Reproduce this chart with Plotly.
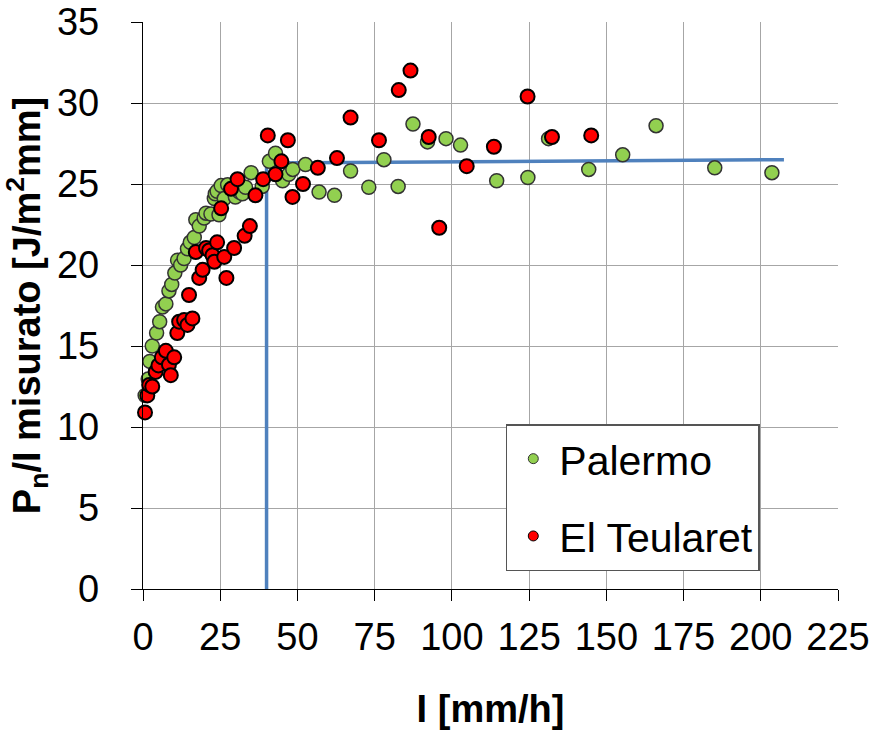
import plotly.graph_objects as go

# Palermo series
pal_x = [0.7, 1.7, 2.2, 3.0, 4.4, 5.4, 6.3, 7.4, 8.4, 9.3, 10.3, 11.2, 12.2, 13.3, 14.4,
         15.3, 16.6, 17.1, 18.2, 19.8, 20.4, 22.0, 24.6, 23.1, 23.4, 24.0, 25.3, 26.3,
         27.4, 29.5, 29.9, 31.2, 32.2, 33.2, 35.0, 38.6, 40.9, 42.9, 45.2, 47.2, 48.5,
         52.6, 57.0, 62.0, 67.2, 73.1, 78.0, 82.6, 87.4, 92.1, 98.1, 102.8, 114.5, 124.6,
         131.3, 144.3, 155.3, 166.1, 185.1, 203.6]
pal_y = [11.95, 12.96, 14.05, 15.0, 15.8, 16.5, 17.4, 17.6, 18.4, 18.8, 19.5, 20.3, 20.0,
         20.4, 21.0, 21.4, 21.7, 22.8, 22.4, 22.9, 23.2, 23.15, 23.1, 24.1, 24.4, 24.55,
         24.9, 24.1, 24.95, 24.5, 24.2, 24.5, 24.4, 24.8, 25.7, 24.85, 26.4, 26.9, 25.2,
         25.6, 25.9, 26.2, 24.5, 24.3, 25.8, 24.8, 26.5, 24.85, 28.7, 27.6, 27.8, 27.4,
         25.2, 25.4, 27.8, 25.9, 26.8, 28.6, 26.0, 25.7]

# El Teularet series
teu_x = [0.65, 1.4, 2.0, 3.0, 4.1, 5.0, 6.1, 7.4, 8.4, 9.0, 10.1, 11.1, 11.7, 13.3, 14.4,
         16.0, 14.9, 18.2, 19.3, 17.1, 20.4, 21.4, 22.5, 23.1, 24.0, 26.3, 27.0, 29.5,
         32.9, 34.6, 25.3, 28.5, 30.6, 36.4, 38.9, 40.4, 42.9, 44.8, 46.9, 48.4, 51.8,
         56.6, 62.8, 67.2, 76.4, 82.8, 86.6, 92.5, 95.9, 104.8, 113.6, 124.5, 132.4, 145.1]
teu_y = [10.9, 11.95, 12.6, 12.5, 13.4, 13.8, 14.3, 14.7, 13.85, 13.2, 14.3, 15.8, 16.5,
         16.6, 16.3, 16.7, 18.15, 19.2, 19.7, 20.8, 21.05, 20.9, 20.6, 20.2, 21.4, 20.5,
         19.2, 21.05, 21.8, 22.4, 23.5, 24.7, 25.3, 24.3, 25.3, 28.0, 25.6, 26.4, 27.7,
         24.2, 25.0, 26.0, 26.6, 29.1, 27.7, 30.8, 32.0, 27.9, 22.3, 26.1, 27.3, 30.4,
         27.9, 28.0]

# threshold line
thr_x = [40, 40, 207.5]
thr_y = [0, 26.3, 26.5]

x_ticks = [0, 25, 50, 75, 100, 125, 150, 175, 200, 225]
y_ticks = [0, 5, 10, 15, 20, 25, 30, 35]

FONT = "Arial, Liberation Sans, sans-serif"
GREEN = "#92D050"
RED = "#FF0000"

fig = go.Figure()
fig.add_trace(go.Scatter(x=thr_x, y=thr_y, mode="lines", showlegend=False,
                         line=dict(color="#4F81BD", width=3.5), hoverinfo="skip"))
fig.add_trace(go.Scatter(x=pal_x, y=pal_y, mode="markers", showlegend=False, cliponaxis=False,
                         marker=dict(size=14, color=GREEN, line=dict(color="#333333", width=1.5))))
fig.add_trace(go.Scatter(x=teu_x, y=teu_y, mode="markers", showlegend=False, cliponaxis=False,
                         marker=dict(size=14, color=RED, line=dict(color="#000000", width=2))))
# legend entries
fig.add_trace(go.Scatter(x=[None], y=[None], mode="markers", name="Palermo", legendgroup="a",
                         marker=dict(size=10, color=GREEN, line=dict(color="#333333", width=1))))
fig.add_trace(go.Scatter(x=[None], y=[None], mode="markers", name="El Teularet", legendgroup="b",
                         marker=dict(size=10, color=RED, line=dict(color="#000000", width=1))))

axis_common = dict(showgrid=True, gridcolor="#a6a6a6", gridwidth=1.3, zeroline=False,
                   showline=True, linecolor="black", linewidth=1.3, ticks="outside",
                   tickcolor="black", automargin=False, ticklabeloverflow="allow",
                   tickfont=dict(family=FONT, size=38, color="black"))

fig.update_xaxes(range=[0, 225], tickvals=x_ticks, ticklen=11, ticklabelstandoff=3,
                 title=dict(text="<b>I [mm/h]</b>", font=dict(family=FONT, size=38, color="black"),
                            standoff=38),
                 **axis_common)
fig.update_yaxes(range=[0, 35], tickvals=y_ticks, ticklen=11, ticklabelstandoff=24,
                 title=dict(text="<b>P<sub>n</sub>/I misurato [J/m<sup>2</sup>mm]</b>",
                            font=dict(family=FONT, size=38, color="black"), standoff=20),
                 **axis_common)

fig.update_layout(
    width=873, height=732,
    margin=dict(l=143, r=35, t=22, b=143),
    paper_bgcolor="white", plot_bgcolor="white",
    font=dict(family=FONT, color="black"),
    legend=dict(x=0.522, y=0.291, xanchor="left", yanchor="top",
                bgcolor="white", bordercolor="#555555", borderwidth=1.5,
                font=dict(family=FONT, size=41, color="black"),
                itemwidth=42, tracegroupgap=21),
)

fig.write_html("out.html", config={"displayModeBar": False},
               post_script="document.body.style.margin='0';document.body.style.overflow='hidden';")
